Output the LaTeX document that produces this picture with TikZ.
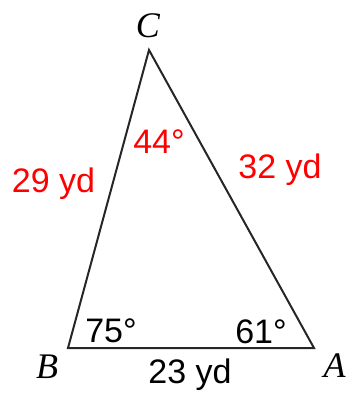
\documentclass[tikz,border=0pt]{standalone}
\usepackage{fontspec}
\setmainfont{Liberation Sans}
\newfontfamily\vtxfont{Liberation Serif}
\begin{document}
\begin{tikzpicture}[x=1pt,y=1pt,
  side/.style={draw=black!85,line width=2pt,line join=miter},
  lbl/.style={inner sep=0pt,anchor=base,font=\fontsize{34}{37}\selectfont},
  redlbl/.style={lbl,text=red},
  vtx/.style={inner sep=0pt,anchor=base,font=\vtxfont\itshape\fontsize{36}{39}\selectfont}]
\useasboundingbox (0,0) rectangle (350,-397);
\coordinate (C) at (149,-50);
\coordinate (B) at (68,-348);
\coordinate (A) at (314,-348);
\draw[side] (B) -- (A) -- (C) -- cycle;
\node[vtx] (lC) at (148,-37) {C};
\node[vtx] (lB) at (47,-378) {B};
\node[vtx] (lA) at (334.5,-377) {A};
\node[redlbl] (s29) at (53.5,-192) {29 yd};
\node[redlbl] (s32) at (280,-178) {32 yd};
\node[redlbl] (a44) at (159,-153) {44°};
\node[lbl] (a75) at (111,-342) {75°};
\node[lbl] (a61) at (261,-343) {61°};
\node[lbl] (s23) at (190,-383) {23 yd};
\end{tikzpicture}
\end{document}
